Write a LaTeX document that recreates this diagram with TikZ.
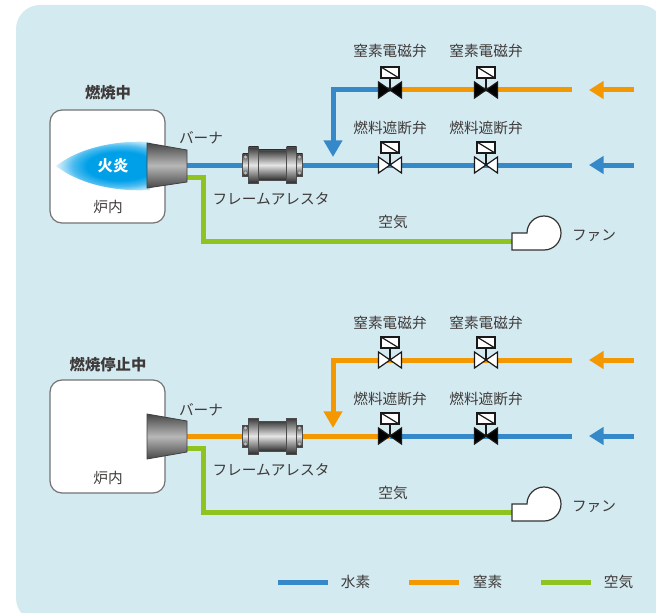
\documentclass[tikz,border=0pt]{standalone}
\usepackage{fontspec}
\newfontfamily\jpfont{Noto Sans CJK JP}
\usepackage{xcolor}
\definecolor{panelblue}{RGB}{212,234,241}
\definecolor{h2blue}{RGB}{54,137,201}
\definecolor{n2orange}{RGB}{243,152,0}
\definecolor{airgreen}{RGB}{143,195,31}
\definecolor{flameblue}{RGB}{0,160,233}
\definecolor{labelgray}{RGB}{62,58,57}
\definecolor{edgegray}{RGB}{115,115,115}
\usepackage{tikz}
\usetikzlibrary{arrows.meta}

% 25bp = edge of the shaded path's box
\pgfdeclareradialshading{flameglow}{\pgfpoint{0bp}{0bp}}{%
  color(0bp)=(flameblue); color(12bp)=(flameblue); color(17bp)=(flameblue!70!white);
  color(21bp)=(flameblue!30!white); color(24bp)=(flameblue!6!white); color(25bp)=(white);
  color(50bp)=(white)}

\tikzset{
  label/.style={font=\jpfont\fontsize{11pt}{13pt}\selectfont, text=labelgray, inner sep=0pt},
  title/.style={font=\jpfont\bfseries\fontsize{11.5pt}{13pt}\selectfont, text=labelgray, inner sep=0pt},
  pipe/.style={line width=3.75pt},
  h2/.style={pipe, draw=h2blue},
  n2/.style={pipe, draw=n2orange},
  air/.style={pipe, draw=airgreen},
  feed/.style={-{Triangle[length=11pt, width=13pt]}},
  purge/.style={-{Triangle[length=12.5pt, width=13.5pt]}},
  furnace/.style={draw=edgegray, line width=0.9pt, fill=white, rounded corners=9pt},
  burner/.style={draw=black!75, line width=0.6pt, top color=black!72, bottom color=black!72, middle color=black!28},
  metal/.style={draw=black!70, line width=0.5pt, top color=black!78, bottom color=black!82, middle color=black!10},
  valveline/.style={draw=black!90, line width=0.9pt},
  pics/valve/.style={code={
    \draw[valveline, fill=#1] (-11.5,-8) -- (11.5,8) -- (11.5,-8) -- (-11.5,8) -- cycle;
    \draw[valveline] (0,0) -- (0,-12);
    \draw[valveline, fill=white] (-9,-12) rectangle (9,-23);
    \draw[valveline] (-9,-23) -- (9,-12);
  }},
  pics/fan/.style={code={
    \draw[draw=black!80, line width=0.9pt, fill=white]
      (0,9) -- (0,-8) -- (15,-8) arc[start angle=180, end angle=450, radius=17] -- cycle;
  }},
  pics/arrester/.style={code={
    \draw[metal] (-30,-11) rectangle (-24,11);
    \draw[metal] (-24,-18) rectangle (-14,18);
    \draw[metal] (-14,-15) rectangle (14,15);
    \draw[metal] (14,-18) rectangle (24,18);
    \draw[metal] (24,-11) rectangle (30,11);
    % bolt heads
    \foreach \bx in {-27,27} {
      \fill[black!25] (\bx,-8) circle[radius=1.6];
      \fill[black!25] (\bx,8) circle[radius=1.6];
    }
  }},
}

\begin{document}
\begin{tikzpicture}[x=0.75pt, y=-0.75pt]
      \useasboundingbox (0,0) rectangle (656,613);
      \clip (0,0) rectangle (656,613);

      % Background
      \fill[panelblue, rounded corners=18pt] (16,5) rectangle (664,622);
      \fill[panelblue] (600,560) rectangle (664,622);

      %% ---------- burning ----------
      \node[title] (stateA) at (108,93) {燃焼中};
      \draw[furnace] (50,110) rectangle (165,223);
      \node[label] (ovenA) at (108,207) {炉内};

      % flame
      \begin{scope}
        \clip (56,166) .. controls (78,149) and (112,140) .. (150,142) -- (150,190)
              .. controls (112,192) and (78,183) .. (56,166) -- cycle;
        \shade[shading=flameglow] (120,166) ellipse[x radius=70, y radius=30];
      \end{scope}
      \node[title, text=white] (flameA) at (113,166) {火炎};

      % points on the lines
      \coordinate (burnA)   at (187,165);
      \coordinate (airA)    at (187,177);
      \coordinate (teeA)    at (333,90);
      \coordinate (dropA)   at (333,157);
      \coordinate (nv1A)    at (390,90);
      \coordinate (nv2A)    at (486,90);
      \coordinate (fv1A)    at (390,165);
      \coordinate (fv2A)    at (486,165);
      \coordinate (n2endA)  at (572,90);
      \coordinate (h2endA)  at (572,165);
      \coordinate (n2inA)   at (634,90);
      \coordinate (n2tipA)  at (589,90);
      \coordinate (h2inA)   at (634,165);
      \coordinate (h2tipA)  at (589,165);
      \coordinate (bendA)   at (203,241);
      \coordinate (fanA)    at (512,241);

      % lines
      \draw[h2] (burnA) -- (h2endA);
      \draw[h2, purge] (nv1A) -- (teeA) -- (dropA);
      \draw[n2] (nv1A) -- (n2endA);
      \draw[air] (airA) -| (bendA) -- (fanA);
      \draw[n2, feed] (n2inA) -- (n2tipA);
      \draw[h2, feed] (h2inA) -- (h2tipA);

      % burner
      \shade[burner] (147,143) -- (187,150) -- (187,182) -- (147,188) -- cycle;
      \node[label] (burnerA) at (201,138) {バーナ};

      % flame arrester
      \pic at (272.5,165) {arrester};
      \node[label] (arrA) at (271,199) {フレームアレスタ};

      % valves
      \pic at (nv1A) {valve=black};
      \pic at (nv2A) {valve=black};
      \pic at (fv1A) {valve=white};
      \pic at (fv2A) {valve=white};
      \node[label] (nv1labA) at (390,51)  {窒素電磁弁};
      \node[label] (nv2labA) at (486,51)  {窒素電磁弁};
      \node[label] (fv1labA) at (390,128) {燃料遮断弁};
      \node[label] (fv2labA) at (486,128) {燃料遮断弁};

      % fan
      \pic at (fanA) {fan};
      \node[label] (airlabA) at (393,222) {空気};
      \node[label] (fanlabA) at (594,236) {ファン};

      %% ---------- stopped ----------
      \node[title] (stateB) at (108,365) {燃焼停止中};
      \draw[furnace] (50,380) rectangle (165,493);
      \node[label] (ovenB) at (108,478) {炉内};

      \coordinate (burnB)   at (187,436);
      \coordinate (airB)    at (187,448);
      \coordinate (teeB)    at (333,360);
      \coordinate (dropB)   at (333,428);
      \coordinate (nv1B)    at (390,360);
      \coordinate (nv2B)    at (486,360);
      \coordinate (fv1B)    at (390,436);
      \coordinate (fv2B)    at (486,436);
      \coordinate (n2endB)  at (572,360);
      \coordinate (h2endB)  at (572,436);
      \coordinate (n2inB)   at (634,360);
      \coordinate (n2tipB)  at (589,360);
      \coordinate (h2inB)   at (634,436);
      \coordinate (h2tipB)  at (589,436);
      \coordinate (bendB)   at (203,512);
      \coordinate (fanB)    at (512,512);

      \draw[n2] (burnB) -- (fv1B);
      \draw[h2] (fv1B) -- (h2endB);
      \draw[n2, purge] (n2endB) -- (teeB) -- (dropB);
      \draw[air] (airB) -| (bendB) -- (fanB);
      \draw[n2, feed] (n2inB) -- (n2tipB);
      \draw[h2, feed] (h2inB) -- (h2tipB);

      \shade[burner] (147,414) -- (187,421) -- (187,452) -- (147,459) -- cycle;
      \node[label] (burnerB) at (201,410) {バーナ};

      \pic at (272.5,436) {arrester};
      \node[label] (arrB) at (271,470) {フレームアレスタ};

      \pic at (nv1B) {valve=white};
      \pic at (nv2B) {valve=white};
      \pic at (fv1B) {valve=black};
      \pic at (fv2B) {valve=black};
      \node[label] (nv1labB) at (390,323) {窒素電磁弁};
      \node[label] (nv2labB) at (486,323) {窒素電磁弁};
      \node[label] (fv1labB) at (390,399) {燃料遮断弁};
      \node[label] (fv2labB) at (486,399) {燃料遮断弁};

      \pic at (fanB) {fan};
      \node[label] (airlabB) at (393,493) {空気};
      \node[label] (fanlabB) at (594,507) {ファン};

      %% ---------- legend ----------
      \coordinate (keyh2a) at (278,582);  \coordinate (keyh2b) at (328,582);
      \coordinate (keyn2a) at (409,582);  \coordinate (keyn2b) at (459,582);
      \coordinate (keyaira) at (541,582); \coordinate (keyairb) at (591,582);
      \draw[h2]  (keyh2a) -- (keyh2b);
      \draw[n2]  (keyn2a) -- (keyn2b);
      \draw[air] (keyaira) -- (keyairb);
      \node[label] (keyh2)  at (355.5,582) {水素};
      \node[label] (keyn2)  at (487.5,582) {窒素};
      \node[label] (keyair) at (618.5,582) {空気};
\end{tikzpicture}
\end{document}
